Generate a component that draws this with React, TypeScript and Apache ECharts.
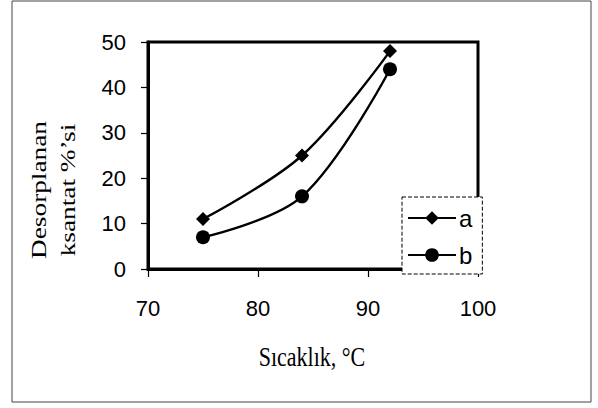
import React, { useEffect, useRef } from "react";
import * as echarts from "echarts";

const seriesNames = ["a", "b"];
const temperatures = [75, 84, 92];
const seriesA = [11, 25, 48];
const seriesB = [7, 16, 44];
const yTitle = "Desorplanan\nksantat %’si";
const xTitle = "Sıcaklık, °C";

export default function App() {
  const ref = useRef<HTMLDivElement>(null);
  useEffect(() => {
    const chart = echarts.init(ref.current!, null, { renderer: "svg" });
    const sans = "Liberation Sans, Arial, sans-serif";
    const serif = "Liberation Serif, Times New Roman, serif";
    const mk = (vals: number[]) => temperatures.map((t, i) => [t, vals[i]]);
    chart.setOption({
      animation: false,
      backgroundColor: "#fff",
      grid: {
        left: 148,
        top: 42,
        width: 330,
        height: 227,
        show: true,
        borderColor: "#000",
        borderWidth: 3,
      },
      xAxis: {
        type: "value",
        min: 70,
        max: 100,
        interval: 10,
        axisLine: { show: true, lineStyle: { color: "#000", width: 3 } },
        axisTick: { show: true, inside: false, length: 8, lineStyle: { color: "#000", width: 1.2 } },
        axisLabel: { color: "#000", fontFamily: sans, fontSize: 22, margin: 28 },
        splitLine: { show: false },
      },
      yAxis: {
        type: "value",
        min: 0,
        max: 50,
        interval: 10,
        axisLine: { show: true, lineStyle: { color: "#000", width: 3 } },
        axisTick: { show: true, inside: false, length: 7, lineStyle: { color: "#000", width: 1.2 } },
        axisLabel: { color: "#000", fontFamily: sans, fontSize: 22, margin: 22 },
        splitLine: { show: false },
      },
      legend: {
        orient: "vertical",
        left: 402,
        top: 197,
        data: seriesNames,
        backgroundColor: "#fff",
        borderColor: "#000",
        borderWidth: 1,
        borderType: "dashed",
        padding: [9, 10, 7, 5],
        itemWidth: 48,
        itemHeight: 17,
        itemGap: 13,
        textStyle: { color: "#000", fontFamily: sans, fontSize: 24, padding: [0, 0, 0, -2] },
        z: 10,
      },
      series: [
        {
          name: seriesNames[0],
          type: "line",
          smooth: 0.35,
          data: mk(seriesA),
          symbol: "diamond",
          symbolSize: 14,
          itemStyle: { color: "#000" },
          lineStyle: { color: "#000", width: 2.4 },
        },
        {
          name: seriesNames[1],
          type: "line",
          smooth: 0.35,
          data: mk(seriesB),
          symbol: "circle",
          symbolSize: 14,
          itemStyle: { color: "#000" },
          lineStyle: { color: "#000", width: 2.4 },
        },
      ],
      graphic: [
        {
          type: "rect",
          shape: { x: 12, y: 1, width: 579, height: 401 },
          style: { fill: "none", stroke: "#444", lineWidth: 1 },
          silent: true,
          z: -1,
        },
        {
          type: "text",
          x: 53,
          y: 190,
          rotation: Math.PI / 2,
          scaleX: 1.3,
          style: {
            text: yTitle,
            fill: "#000",
            font: `21px ${serif}`,
            align: "center",
            verticalAlign: "middle",
            lineHeight: 29,
          },
        },
        {
          type: "text",
          x: 312,
          y: 357,
          scaleY: 1.2,
          style: {
            text: xTitle,
            fill: "#000",
            font: `22px ${serif}`,
            align: "center",
            verticalAlign: "middle",
          },
        },
      ],
    });
    return () => chart.dispose();
  }, []);
  return <div ref={ref} style={{ width: 598, height: 408, position: "absolute", left: 0, top: 0 }} />;
}
